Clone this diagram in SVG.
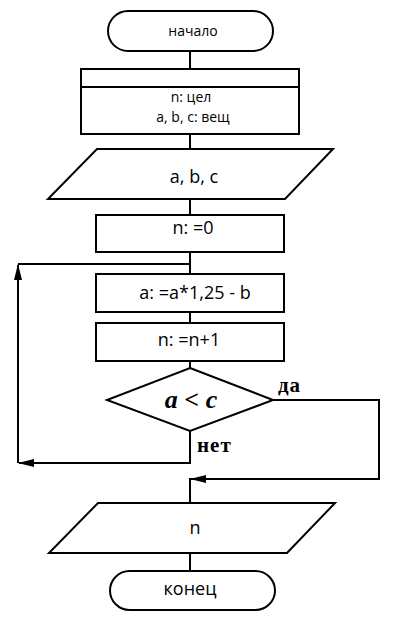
<svg xmlns="http://www.w3.org/2000/svg" width="419" height="629" viewBox="0 0 419 629">
<defs>
<style>
.s{fill:#fff;stroke:#000;stroke-width:2}
.c{fill:none;stroke:#000;stroke-width:2}
.t{font-family:"Open Sans","DejaVu Sans",sans-serif;fill:#000;text-anchor:middle}
.b{font-family:"Liberation Serif","DejaVu Serif",serif;font-weight:bold;fill:#000;letter-spacing:1px}
</style>
<marker id="ah" markerWidth="16" markerHeight="8" refX="15" refY="4" orient="auto" markerUnits="userSpaceOnUse">
<path d="M0,0 L16,4 L0,8 Z" fill="#000"/>
</marker>
</defs>
<rect width="419" height="629" fill="#fff"/>
<g id="connectors">
<line class="c" x1="190" y1="51" x2="190" y2="69"/>
<line class="c" x1="190" y1="134" x2="190" y2="149"/>
<line class="c" x1="190" y1="199" x2="190" y2="215"/>
<line class="c" x1="190" y1="252" x2="190" y2="274"/>
<polyline class="c" points="190,264 18,264"/>
<line class="c" x1="190" y1="312" x2="190" y2="323"/>
<line class="c" x1="190" y1="361" x2="190" y2="368"/>
<polyline class="c" points="190,431 190,463 19,463" marker-end="url(#ah)"/>
<polyline class="c" points="18,463 18,265" marker-end="url(#ah)"/>
<polyline class="c" points="273,400 379,400 379,479 191,479" marker-end="url(#ah)"/>
<line class="c" x1="190" y1="478" x2="190" y2="503"/>
<line class="c" x1="190" y1="553" x2="190" y2="571"/>
<text class="b" x="278" y="392" font-size="21">да</text>
<text class="b" x="197" y="452" font-size="21">нет</text>
</g>
<g id="start">
<rect class="s" x="108" y="11" width="165" height="40" rx="20" ry="20"/>
<text class="t" x="193" y="36" font-size="14">начало</text>
</g>
<g id="decl">
<rect class="s" x="81" y="69" width="218" height="65"/>
<line class="c" x1="81" y1="87" x2="299" y2="87"/>
<text class="t" x="191" y="102" font-size="14">n: цел</text>
<text class="t" x="193" y="122" font-size="14">a, b, c: вещ</text>
</g>
<g id="input">
<polygon class="s" points="97,149 333,149 285,199 48,199"/>
<text class="t" x="194" y="183" font-size="18">a, b, c</text>
</g>
<g id="init">
<rect class="s" x="96" y="215" width="188" height="37"/>
<text class="t" x="193" y="234" font-size="18">n: =0</text>
</g>
<g id="calc">
<rect class="s" x="96" y="274" width="188" height="38"/>
<text class="t" x="195" y="299" font-size="18">a: =a*1,25 - b</text>
</g>
<g id="inc">
<rect class="s" x="96" y="323" width="188" height="38"/>
<text class="t" x="189" y="346" font-size="18">n: =n+1</text>
</g>
<g id="cond">
<polygon class="s" points="190,368 273,400 190,431 107,400"/>
<text x="191" y="408" font-size="26" font-family="Liberation Serif,DejaVu Serif,serif" font-style="italic" font-weight="bold" text-anchor="middle">a &lt; c</text>
</g>
<g id="output">
<polygon class="s" points="98,503 335,503 287,553 49,553"/>
<text class="t" x="195" y="534" font-size="18">n</text>
</g>
<g id="end">
<rect class="s" x="110" y="571" width="165" height="39" rx="19.5" ry="19.5"/>
<text class="t" x="190" y="595" font-size="18">конец</text>
</g>
</svg>
